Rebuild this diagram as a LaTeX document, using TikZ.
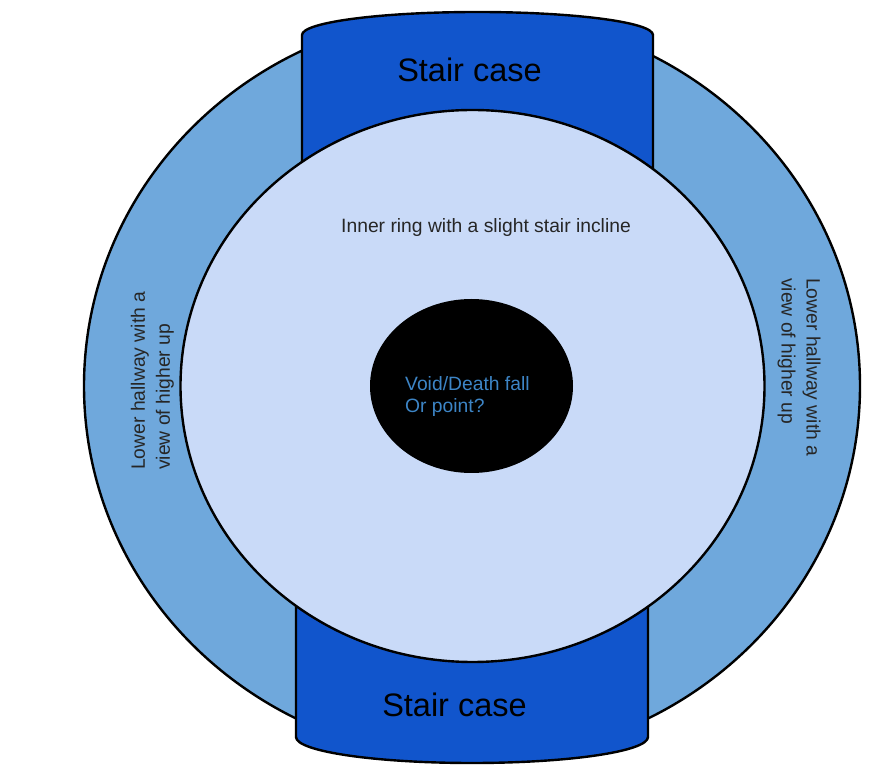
\documentclass[tikz,border=0pt]{standalone}
\usepackage{fontspec}
\setmainfont{Liberation Sans}
\usepackage{tikz}
\usetikzlibrary{positioning}

\definecolor{hallblue}{HTML}{6FA8DC}
\definecolor{stairblue}{HTML}{1155CC}
\definecolor{ringblue}{HTML}{C9DAF8}
\definecolor{voidblue}{HTML}{3D85C6}

\begin{document}
\begin{tikzpicture}[x=1pt, y=1pt,
    outline/.style={draw=black, line width=2.4pt},
    hallway/.style={outline, fill=hallblue},
    stairs/.style={outline, fill=stairblue, line join=round},
    innerring/.style={outline, fill=ringblue},
    void/.style={fill=black},
    stairtext/.style={font=\fontsize{32.5}{38}\selectfont, inner sep=0pt},
    roomtext/.style={font=\fontsize{19.3}{25}\selectfont, text=black!85, inner sep=0pt, align=left}]
    \useasboundingbox[fill=white] (0,0) rectangle (873,774);
    % Shapes
    \draw[hallway] (472,388) ellipse[x radius=388, y radius=373];
    \draw[stairs] (302,524) -- (302,739) arc[start angle=180, end angle=0, x radius=175.5, y radius=23] -- (653,524) -- cycle;
    \draw[stairs] (648,254) -- (648,37) arc[start angle=0, end angle=-180, x radius=176, y radius=26] -- (296,254) -- cycle;
    \draw[innerring] (472.5,388) ellipse[x radius=292, y radius=276];
    \fill[void] (471.5,388) ellipse[x radius=101.5, y radius=87];
    % Texts
    \node[stairtext, anchor=base] (topstairs) at (469.5,692) {Stair case};
    \node[stairtext, anchor=base] (bottomstairs) at (454.5,57) {Stair case};
    \node[roomtext, anchor=base] (innerring) at (486,541) {Inner ring with a slight stair incline};
    \node[roomtext, anchor=west, text=voidblue, font=\fontsize{19.3}{22}\selectfont] (void) at (405,377) {Void/Death fall\\Or point?};
    \node[roomtext, rotate=90, anchor=west] (lefthall) at (152.5,304) {Lower hallway with a\\view of higher up};
    \node[roomtext, rotate=-90, anchor=west] (righthall) at (799,496) {Lower hallway with a\\view of higher up};
\end{tikzpicture}
\end{document}
